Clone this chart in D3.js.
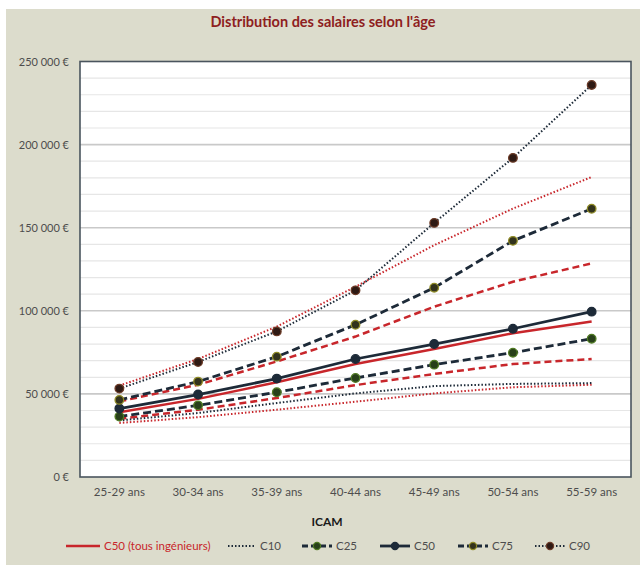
<!DOCTYPE html>
<html>
<head>
<meta charset="utf-8">
<script src="https://cdn.jsdelivr.net/npm/d3@7"></script>
<style>
  html, body { margin: 0; padding: 0; background: #ffffff; }
  svg { display: block; }
</style>
</head>
<body>
<svg id="chart" width="640" height="565"></svg>
<script>
// Tranches d'âge
const categories = ["25-29 ans", "30-34 ans", "35-39 ans", "40-44 ans", "45-49 ans", "50-54 ans", "55-59 ans"];

// Déciles / quartiles ICAM
const c10 = [34000, 38500, 44500, 50300, 54700, 56000, 56500];
const c25 = [36400, 43100, 51000, 59600, 67600, 74800, 83200];
const c50 = [41200, 49600, 59200, 71000, 80000, 89200, 99500];
const c75 = [46400, 57400, 72400, 91600, 113900, 142100, 161400];
const c90 = [53200, 69200, 87600, 112300, 152900, 192000, 235900];

// Ensemble des ingénieurs
const allC10 = [32500, 36000, 40500, 45300, 50300, 54000, 55500];
const allC25 = [35000, 40500, 47500, 55300, 62000, 68000, 71000];
const allC50 = [39000, 47000, 57000, 68000, 77000, 86500, 93500];
const allC75 = [45500, 55500, 69500, 84500, 102500, 117500, 128500];
const allC90 = [55000, 71000, 90500, 114500, 139500, 161500, 180500];

const yTicks = [0, 50000, 100000, 150000, 200000, 250000];

const svg = d3.select("#chart");
const W = 640, H = 565;
const font = "Lato, 'Open Sans', sans-serif";
const navy = "#1d2a38";
const red = "#c8262b";

// fond
svg.append("rect").attr("x", 6).attr("y", 9).attr("width", W - 6).attr("height", H - 9).attr("fill", "#dcdccc");

const plot = { left: 80, right: 631, top: 61.5, bottom: 477 };

const x = d3.scaleBand().domain(categories).range([plot.left, plot.right]).padding(0);
const cx = d => x(d) + x.bandwidth() / 2;
const y = d3.scaleLinear().domain([0, 250000]).range([plot.bottom, plot.top]);

// zone de tracé
svg.append("rect")
  .attr("x", plot.left).attr("y", plot.top)
  .attr("width", plot.right - plot.left).attr("height", plot.bottom - plot.top)
  .attr("fill", "#ffffff");

// quadrillage
const minor = d3.range(10000, 250000, 10000).filter(v => v % 50000 !== 0);
svg.append("g").selectAll("line").data(minor).join("line")
  .attr("x1", plot.left).attr("x2", plot.right)
  .attr("y1", d => y(d)).attr("y2", d => y(d))
  .attr("stroke", "#e6e6e6").attr("stroke-width", 1.2);
svg.append("g").selectAll("line").data(yTicks.filter(v => v > 0 && v < 250000)).join("line")
  .attr("x1", plot.left).attr("x2", plot.right)
  .attr("y1", d => y(d)).attr("y2", d => y(d))
  .attr("stroke", "#c9c9c9").attr("stroke-width", 1.6);

// axe des ordonnées
const fmt = v => d3.format(",")(v).replace(/,/g, "\u202f") + "\u00a0€";
const yAxis = d3.axisLeft(y).tickValues(yTicks).tickSize(0).tickPadding(11).tickFormat(fmt);
const gy = svg.append("g").attr("transform", `translate(${plot.left},0)`).call(yAxis);
gy.select(".domain").remove();
gy.selectAll("text").attr("font-family", font).attr("font-size", 11).attr("fill", "#4d4d4d");

// axe des abscisses
const xAxis = d3.axisBottom(x).tickSize(0).tickPadding(11);
const gx = svg.append("g").attr("transform", `translate(0,${plot.bottom})`).call(xAxis);
gx.select(".domain").remove();
gx.selectAll("text").attr("font-family", font).attr("font-size", 11.5).attr("fill", "#4d4d4d");

// cadre
svg.append("rect")
  .attr("x", plot.left).attr("y", plot.top)
  .attr("width", plot.right - plot.left).attr("height", plot.bottom - plot.top)
  .attr("fill", "none").attr("stroke", "#4a555e").attr("stroke-width", 1.6);

const line = d3.line().x((d, i) => cx(categories[i])).y(d => y(d));

const allSeries = [
  { data: allC10, dash: "1.5,2", width: 2 },
  { data: allC25, dash: "7,4", width: 2.5 },
  { data: allC50, dash: null, width: 2.5 },
  { data: allC75, dash: "7,4", width: 2.5 },
  { data: allC90, dash: "1.5,2", width: 2 }
];
allSeries.forEach(s => {
  svg.append("path").attr("d", line(s.data)).attr("fill", "none")
    .attr("stroke", red).attr("stroke-width", s.width)
    .attr("stroke-dasharray", s.dash);
});

const icam = [
  { name: "C10", data: c10, dash: "1.5,2", width: 2, marker: null },
  { name: "C25", data: c25, dash: "8,4", width: 2.8, marker: { fill: "#28401a", stroke: "#4f7a22" } },
  { name: "C50", data: c50, dash: null, width: 2.8, marker: { fill: navy, stroke: navy } },
  { name: "C75", data: c75, dash: "8,4", width: 2.8, marker: { fill: "#33331d", stroke: "#8f8b26" } },
  { name: "C90", data: c90, dash: "1.5,2", width: 2, marker: { fill: "#2e1a14", stroke: "#6b3a26" } }
];
icam.forEach(s => {
  svg.append("path").attr("d", line(s.data)).attr("fill", "none")
    .attr("stroke", navy).attr("stroke-width", s.width)
    .attr("stroke-dasharray", s.dash);
  if (s.marker) {
    svg.append("g").selectAll("circle").data(s.data).join("circle")
      .attr("cx", (d, i) => cx(categories[i])).attr("cy", d => y(d))
      .attr("r", 4.3).attr("fill", s.marker.fill)
      .attr("stroke", s.marker.stroke).attr("stroke-width", 1.3);
  }
});

// titre
svg.append("text").attr("x", 323).attr("y", 27).attr("text-anchor", "middle")
  .attr("font-family", font).attr("font-size", 14.5).attr("font-weight", "bold")
  .attr("fill", "#8e2020").text("Distribution des salaires selon l'âge");

// titre de l'axe
svg.append("text").attr("x", 327).attr("y", 526).attr("text-anchor", "middle")
  .attr("font-family", font).attr("font-size", 12).attr("font-weight", "bold")
  .attr("fill", "#1a1a1a").text("ICAM");

// légende
const legend = [
  { label: "C50 (tous ingénieurs)", color: red, dash: null, width: 2.5, marker: null, x: 66, textColor: red },
  { label: "C10", color: navy, dash: "1.5,2", width: 2, marker: null, x: 228 },
  { label: "C25", color: navy, dash: "6,3", width: 2.8, marker: icam[1].marker, x: 302 },
  { label: "C50", color: navy, dash: null, width: 2.8, marker: icam[2].marker, x: 380 },
  { label: "C75", color: navy, dash: "6,3", width: 2.8, marker: icam[3].marker, x: 458 },
  { label: "C90", color: navy, dash: "1.5,2", width: 2, marker: icam[4].marker, x: 535 }
];
const ly = 546;
legend.forEach(l => {
  const len = l.marker ? 30 : (l.dash ? 28 : 34);
  svg.append("line").attr("x1", l.x).attr("x2", l.x + len).attr("y1", ly).attr("y2", ly)
    .attr("stroke", l.color).attr("stroke-width", l.width).attr("stroke-dasharray", l.dash);
  if (l.marker) {
    svg.append("circle").attr("cx", l.x + len / 2).attr("cy", ly).attr("r", 3.6)
      .attr("fill", l.marker.fill).attr("stroke", l.marker.stroke).attr("stroke-width", 1.2);
  }
  svg.append("text").attr("x", l.x + len + 4).attr("y", ly + 4)
    .attr("font-family", font).attr("font-size", 11.5)
    .attr("fill", l.textColor || "#4d4d4d").text(l.label);
});
</script>
</body>
</html>
